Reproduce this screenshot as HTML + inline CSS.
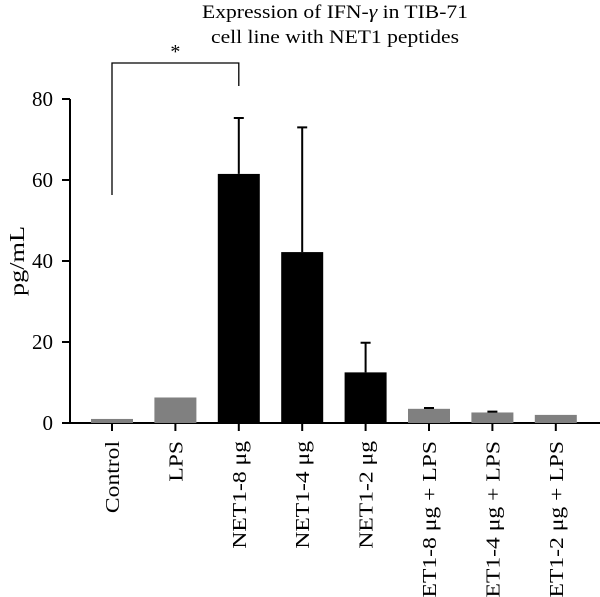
<!DOCTYPE html>
<html><head><meta charset="utf-8"><style>
html,body{margin:0;padding:0;background:#fff;}
svg{display:block;font-family:"Liberation Serif",serif;}
</style></head><body>
<svg id="chart" width="600" height="597" viewBox="0 0 600 597">
<text x="335" y="18" font-size="19" text-anchor="middle" textLength="266" lengthAdjust="spacingAndGlyphs">Expression of IFN-<tspan font-style="italic">γ</tspan> in TIB-71</text>
<text x="335" y="43" font-size="19" text-anchor="middle" textLength="248" lengthAdjust="spacingAndGlyphs">cell line with NET1 peptides</text>
<text transform="translate(24,261) rotate(-90)" font-size="21" text-anchor="middle" textLength="70" lengthAdjust="spacingAndGlyphs">pg/mL</text>
<g id="plot"></g>
</svg>
<script>
const categories = ["Control","LPS","NET1-8 μg","NET1-4 μg","NET1-2 μg","NET1-8 μg + LPS","NET1-4 μg + LPS","NET1-2 μg + LPS"];
const values = [1.0, 6.3, 61.5, 42.2, 12.5, 3.5, 2.6, 2.0];
const errTops = [null, null, 75.3, 73.0, 19.8, 3.7, 2.8, null];
const barColors = ["#808080","#808080","#000","#000","#000","#808080","#808080","#808080"];
const yTicks = [0, 20, 40, 60, 80];

const NS = "http://www.w3.org/2000/svg";
const g = document.getElementById("plot");
const x0 = 112, step = 63.4, barW = 42;
const yBase = 423, pxPerUnit = 4.05;
function xScale(i){ return x0 + i*step; }
function yScale(v){ return yBase - v*pxPerUnit; }
function mk(tag, attrs){ const e = document.createElementNS(NS, tag); for (const k in attrs) e.setAttribute(k, attrs[k]); g.appendChild(e); return e; }

let e = mk("line",{x1:70,y1:yScale(80),x2:70,y2:yBase+1,stroke:"#000","stroke-width":2});


e = mk("line",{x1:62,y1:yBase,x2:600,y2:yBase,stroke:"#000","stroke-width":2});



yTicks.forEach(t=>{
  const y = yScale(t);
  let tk = mk("line",{x1:62,y1:y,x2:70,y2:y,stroke:"#000","stroke-width":2});
  
  
  let lb = mk("text",{x:53,y:y+7,"font-size":21,"text-anchor":"end"});
  lb.textContent = t;
  
  
});

categories.forEach((c,i)=>{
  const cx = xScale(i);
  const v = values[i];
  const r = mk("rect",{x:cx-barW/2,y:yScale(v),width:barW,height:yBase-yScale(v),fill:barColors[i]});
  
  
  if (errTops[i] !== null){
    const eb = mk("path",{d:`M${cx},${yScale(v)}V${yScale(errTops[i])}M${cx-5},${yScale(errTops[i])}H${cx+5}`,stroke:"#000","stroke-width":2,fill:"none"});
    
    
  }
  const tk = mk("line",{x1:cx,y1:yBase,x2:cx,y2:yBase+8,stroke:"#000","stroke-width":2});
  
  
  const lb = mk("text",{transform:`translate(${cx+7},441) rotate(-90)`,"font-size":20,"text-anchor":"end"});
  lb.textContent = c;
  
  
  const w = lb.getComputedTextLength();
  lb.setAttribute("textLength", (w*1.18).toFixed(1));
  lb.setAttribute("lengthAdjust", "spacingAndGlyphs");
});

const br = mk("path",{d:`M${xScale(0)},195V63H${xScale(2)}V86`,stroke:"#000","stroke-width":1.3,fill:"none"});


const st = mk("text",{x:(xScale(0)+xScale(2))/2,y:58,"font-size":20,"text-anchor":"middle"});
st.textContent = "*";


</script>
</body></html>
